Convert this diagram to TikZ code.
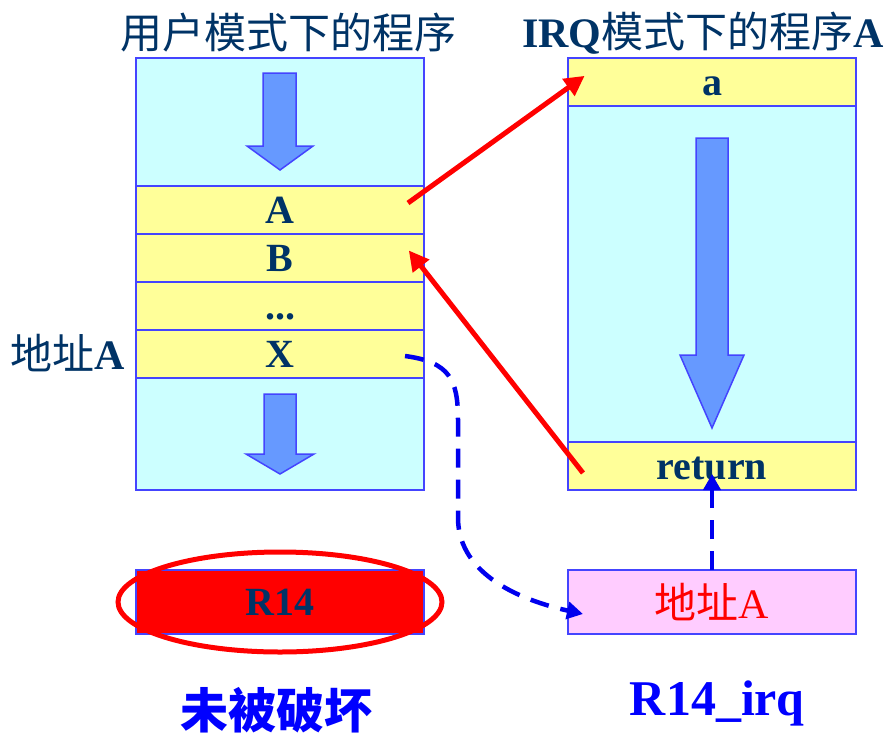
\documentclass[tikz,border=0pt]{standalone}
\usepackage{fontspec}
\setmainfont{Liberation Serif}
\newfontfamily\cjk{Noto Sans CJK SC}
\usetikzlibrary{arrows.meta,shapes.geometric,calc}
\definecolor{ink}{HTML}{003366}
\definecolor{edgeblue}{HTML}{4444FF}
\definecolor{cyanf}{HTML}{CCFFFF}
\definecolor{yelf}{HTML}{FFFF99}
\definecolor{arrf}{HTML}{6699FF}
\definecolor{pinkf}{HTML}{FFCCFF}
\definecolor{dashblue}{HTML}{0000EE}
\begin{document}
\begin{tikzpicture}[x=1pt,y=-1pt,
  cell/.style={draw=edgeblue,line width=1.5pt,minimum width=288pt,inner sep=0pt,outer sep=0pt,
    text=ink,font=\bfseries\fontsize{40}{40}\selectfont,text height=27pt,text depth=0pt},
  cyancell/.style={cell,fill=cyanf},
  yelcell/.style={cell,fill=yelf,minimum height=48pt},
  blockarr/.style={fill=arrf,draw=edgeblue,line width=1.5pt,line join=miter},
  redarr/.style={draw=red,line width=5pt,-{Triangle[length=20pt,width=20pt]},shorten >=-2pt},
  bluedash/.style={draw=dashblue,line width=4.5pt,dash pattern=on 19pt off 12pt,-{Triangle[length=16pt,width=17pt]}},
  title/.style={text=ink,font=\fontsize{42}{42}\selectfont,inner sep=0pt}]
\useasboundingbox (0,0) rectangle (889,734);
% titles
\node[title] (T1) at (288,33) {\cjk 用户模式下的程序};
\node[title] (T2) at (703,33) {\textbf{IRQ}{\cjk 模式下的程序}\textbf{A}};
% left column
\node[cyancell,minimum height=128pt] (L0) at (280,122) {};
\node[yelcell] (LA) at (280,210) {A};
\node[yelcell] (LB) at (280,258) {B};
\node[yelcell] (LD) at (280,306) {...};
\node[yelcell] (LX) at (280,354) {X};
\node[cyancell,minimum height=112pt] (L1) at (280,434) {};
\node[title] (addrL) at (68,353) {{\cjk 地址}\textbf{A}};
% right column
\node[yelcell] (Ra) at (712,82) {a};
\node[cyancell,minimum height=336pt] (Rm) at (712,274) {};
\node[yelcell] (Rr) at (712,466) {return};
% block arrows
\filldraw[blockarr] (263,73) -- (296,73) -- (296,146) -- (313,146) -- (280,170) -- (247,146) -- (263,146) -- cycle;
\filldraw[blockarr] (264,394) -- (296,394) -- (296,454) -- (314,454) -- (280,474) -- (246,454) -- (264,454) -- cycle;
\filldraw[blockarr] (696,138) -- (728,138) -- (728,355) -- (744,355) -- (712,428) -- (680,355) -- (696,355) -- cycle;
% registers
\node[cell,fill=red,minimum height=64pt] (R14) at (280,602) {R14};
\node[ellipse,draw=red,line width=5pt,minimum width=324pt,minimum height=100pt,inner sep=0pt] (E) at (280,602) {};
\node[cell,fill=pinkf,minimum height=64pt,text=red,font=\fontsize{42}{42}\selectfont,text height=32pt] (Rirq) at (712,602) {{\cjk 地址}A};
% captions
\node[text=blue,font=\cjk\bfseries\fontsize{48}{48}\selectfont,inner sep=0pt] (cap1) at (276,710) {未被破坏};
\node[text=blue,font=\bfseries\fontsize{50}{50}\selectfont,inner sep=0pt] (cap2) at (717,703) {R14\_irq};
% red arrows
\draw[redarr] ($(LA.east)+(-16,-7)$) -- ($(Ra.west)+(15,-5)$);
\draw[redarr] ($(Rr.west)+(15,7)$) -- ($(LB.east)+(-14,-6)$);
% blue dashed
\draw[bluedash] ($(LX.east)+(-19,2)$) .. controls (450,362) and (458,380) .. (458,420) -- (458,520) .. controls (460,575) and (520,600) .. ($(Rirq.west)+(15,12)$);
\draw[bluedash] (Rirq.north) -- ($(Rr.south)+(0,-16)$);
\end{tikzpicture}
\end{document}
